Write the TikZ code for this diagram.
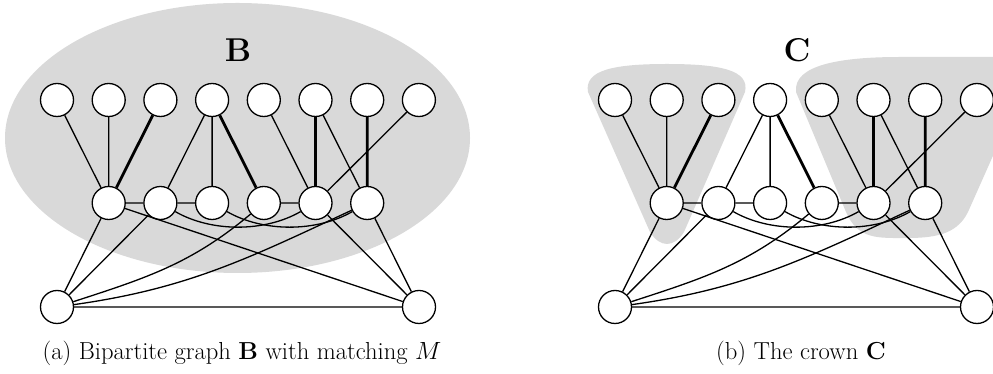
\documentclass[tikz,border=0pt]{standalone}
\usepackage{fontspec}
\usepackage{tikz}
\definecolor{blobgray}{RGB}{217,217,217}
\tikzset{
  vtx/.style={circle,draw,fill=white,line width=1.3pt,minimum size=33pt,inner sep=0pt},
  ed/.style={line width=1.3pt},
  med/.style={line width=2.8pt},
  ttl/.style={font=\fontsize{33}{40}\selectfont\bfseries},
  captext/.style={font=\fontsize{24.6}{29}\selectfont}
}
\begin{document}
\begin{tikzpicture}[x=1pt,y=1pt]
\useasboundingbox (0,0) rectangle (993,374);
\clip (0,0) rectangle (993,374);
% gray regions
\fill[blobgray] (237.5,236) ellipse [x radius=232.5, y radius=135];
\fill[blobgray] (588,282) -- (650,142) .. controls (660,126) and (674,126) .. (684,142)
  -- (745,282) .. controls (750,304) and (720,310) .. (667,310)
  .. controls (614,310) and (584,304) .. (588,282) -- cycle;
\fill[blobgray] (796,282) -- (846,162) .. controls (858,134) and (878,136) .. (908,136)
  .. controls (940,136) and (958,142) .. (968,162) -- (1000,234) -- (1000,317) -- (900,317)
  .. controls (840,317) and (793,309) .. (796,282) -- cycle;
% vertices
\foreach \p/\o in {a/0,b/558} {
  \foreach \i in {1,...,8} \node[vtx] (\p-t\i) at ({\o+57+51.7*(\i-1)},274) {};
  \foreach \i in {1,...,6} \node[vtx] (\p-m\i) at ({\o+57+51.7*\i},171) {};
  \node[vtx] (\p-b1) at ({\o+57},67) {};
  \node[vtx] (\p-b2) at ({\o+419},67) {};
}
% edges
\foreach \p in {a,b} {
  \draw[ed] (\p-t1)--(\p-m1) (\p-t2)--(\p-m1) (\p-t4)--(\p-m2) (\p-t4)--(\p-m3)
    (\p-t5)--(\p-m5) (\p-t6)--(\p-m6) (\p-t8)--(\p-m5)
    (\p-m1)--(\p-m2) (\p-m2)--(\p-m3) (\p-m4)--(\p-m5)
    (\p-m1)--(\p-b1) (\p-m2)--(\p-b1) (\p-b1)--(\p-b2)
    (\p-m1)--(\p-b2) (\p-m5)--(\p-b2) (\p-m6)--(\p-b2);
  \draw[ed] (\p-m2) to[out=-30,in=-150,looseness=0.85] (\p-m5);
  \draw[ed] (\p-m3) to[out=-30,in=-150,looseness=0.85] (\p-m6);
  \draw[ed] (\p-m4) to[out=220,in=18] (\p-b1);
  \draw[ed] (\p-m6) to[out=205,in=8] (\p-b1);
  \draw[med] (\p-t3)--(\p-m1) (\p-t4)--(\p-m4) (\p-t6)--(\p-m5) (\p-t7)--(\p-m6);
}
% labels
\node[ttl] (lb) at (238,324) {B};
\node[ttl] (lc) at (797,324) {C};
\node[captext] (ca) at (242,21) {(a) Bipartite graph \textbf{B} with matching $M$};
\node[captext] (cb) at (801,21) {(b) The crown \textbf{C}};
\end{tikzpicture}
\end{document}
